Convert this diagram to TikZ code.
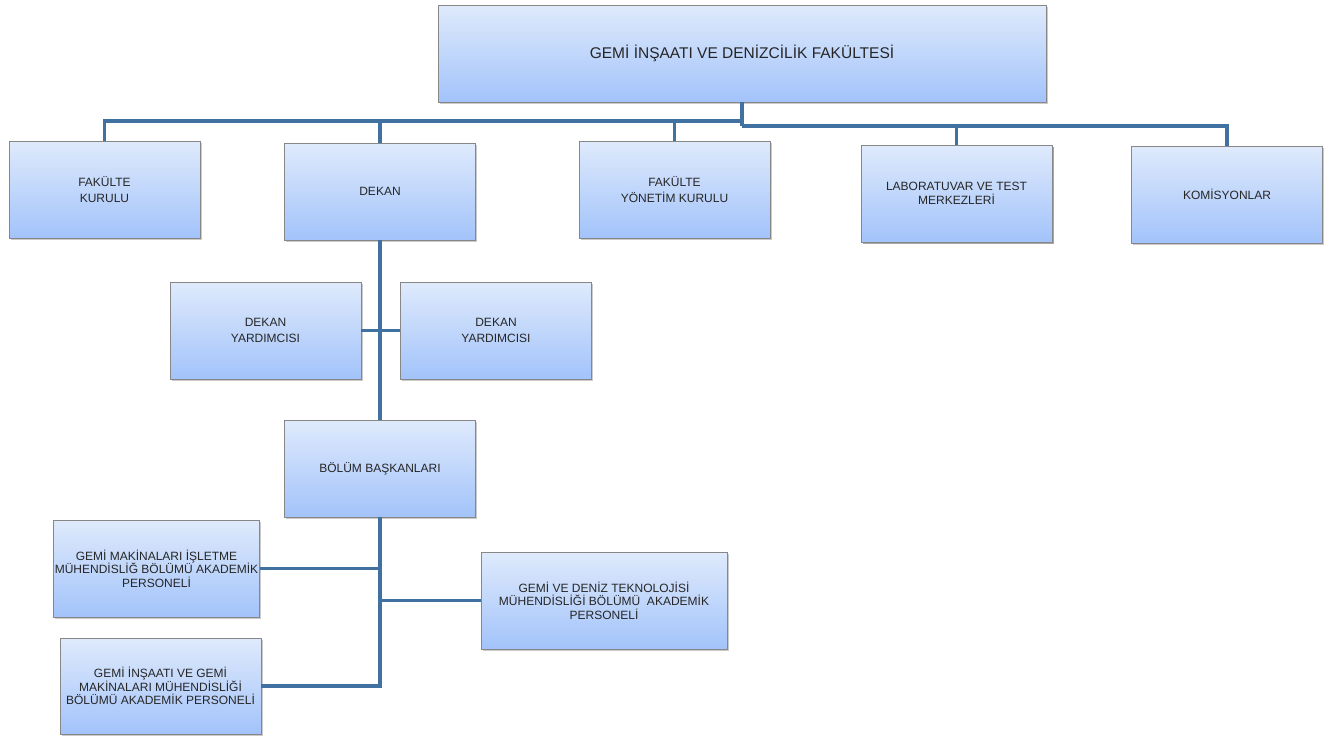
\documentclass[tikz,border=0pt]{standalone}
\usepackage{fontspec}
\setmainfont{Liberation Sans}
\usetikzlibrary{shadows}
\definecolor{linkblue}{RGB}{65,113,160}
\definecolor{boxtop}{RGB}{223,234,252}
\definecolor{boxbottom}{RGB}{162,195,250}
\definecolor{boxedge}{RGB}{135,135,135}
\tikzset{
  unit/.style={rectangle, draw=boxedge, line width=0.8pt, top color=boxtop, bottom color=boxbottom,
               align=center, text=black!85, inner sep=1pt, font=\fontsize{12}{16}\selectfont,
               drop shadow={shadow xshift=1.5pt, shadow yshift=-2pt, opacity=0.35, fill=black!60}},
  smallunit/.style={unit, minimum width=191pt, minimum height=97pt},
  tightunit/.style={unit, font=\fontsize{12}{13.5}\selectfont},
  link/.style={draw=linkblue, line width=3.5pt}
}

\begin{document}
\begin{tikzpicture}[x=1pt,y=-1pt]
  \useasboundingbox (0,0) rectangle (1338,736);

  % Faculty on top.
  \node[unit, minimum width=608pt, minimum height=97pt, font=\fontsize{15.5}{18}\selectfont]
    (faculty) at (742,53.5) {GEMİ İNŞAATI VE DENİZCİLİK FAKÜLTESİ};

  % First row.
  \node[smallunit] (kurul) at (104.5,189.5) {FAKÜLTE\\KURULU};
  \node[smallunit] (dekan) at (380,191.5) {DEKAN};
  \node[smallunit] (yonetim) at (674.5,189.5) {FAKÜLTE\\YÖNETİM KURULU};
  \node[smallunit, tightunit] (lab) at (956.5,193.5) {LABORATUVAR VE TEST\\MERKEZLERİ};
  \node[smallunit] (komisyon) at (1227,194.5) {KOMİSYONLAR};

  % Deputies and department heads.
  \node[smallunit] (yrdA) at (265.5,330.5) {DEKAN\\YARDIMCISI};
  \node[smallunit] (yrdB) at (496,330.5) {DEKAN\\YARDIMCISI};
  \node[smallunit] (bolum) at (380,468.5) {BÖLÜM BAŞKANLARI};

  % Academic staff.
  \node[tightunit, minimum width=203pt, minimum height=97pt] (gmi) at (156.5,568.5)
    {GEMİ MAKİNALARI İŞLETME\\MÜHENDİSLİĞ BÖLÜMÜ AKADEMİK\\PERSONELİ};
  \node[tightunit, minimum width=246pt, minimum height=97pt] (gdt) at (604,600.5)
    {GEMİ VE DENİZ TEKNOLOJİSİ\\MÜHENDİSLİĞİ BÖLÜMÜ\ \ AKADEMİK\\PERSONELİ};
  \node[tightunit, minimum width=201pt, minimum height=96pt] (gig) at (160.5,686)
    {GEMİ İNŞAATI VE GEMİ\\MAKİNALARI MÜHENDİSLİĞİ\\BÖLÜMÜ AKADEMİK PERSONELİ};

  % Buses under the faculty.
  \coordinate (busL) at (742,121);
  \coordinate (busR) at (742,126);
  \draw[link] (faculty.south) -- (busR);
  \foreach \n in {kurul,dekan,yonetim}
    \draw[link] (busL) -| (\n.north);
  \foreach \n in {lab,komisyon}
    \draw[link] (busR) -| (\n.north);

  % Dean line.
  \draw[link] (dekan.south) -- (bolum.north);
  \draw[link] (yrdA.east) -- (yrdB.west);

  % Department line.
  \draw[link] (bolum.south) |- (gig.east);
  \draw[link] (gmi.east) -- (gmi.east -| bolum.south);
  \draw[link] (gdt.west) -- (gdt.west -| bolum.south);
\end{tikzpicture}
\end{document}
